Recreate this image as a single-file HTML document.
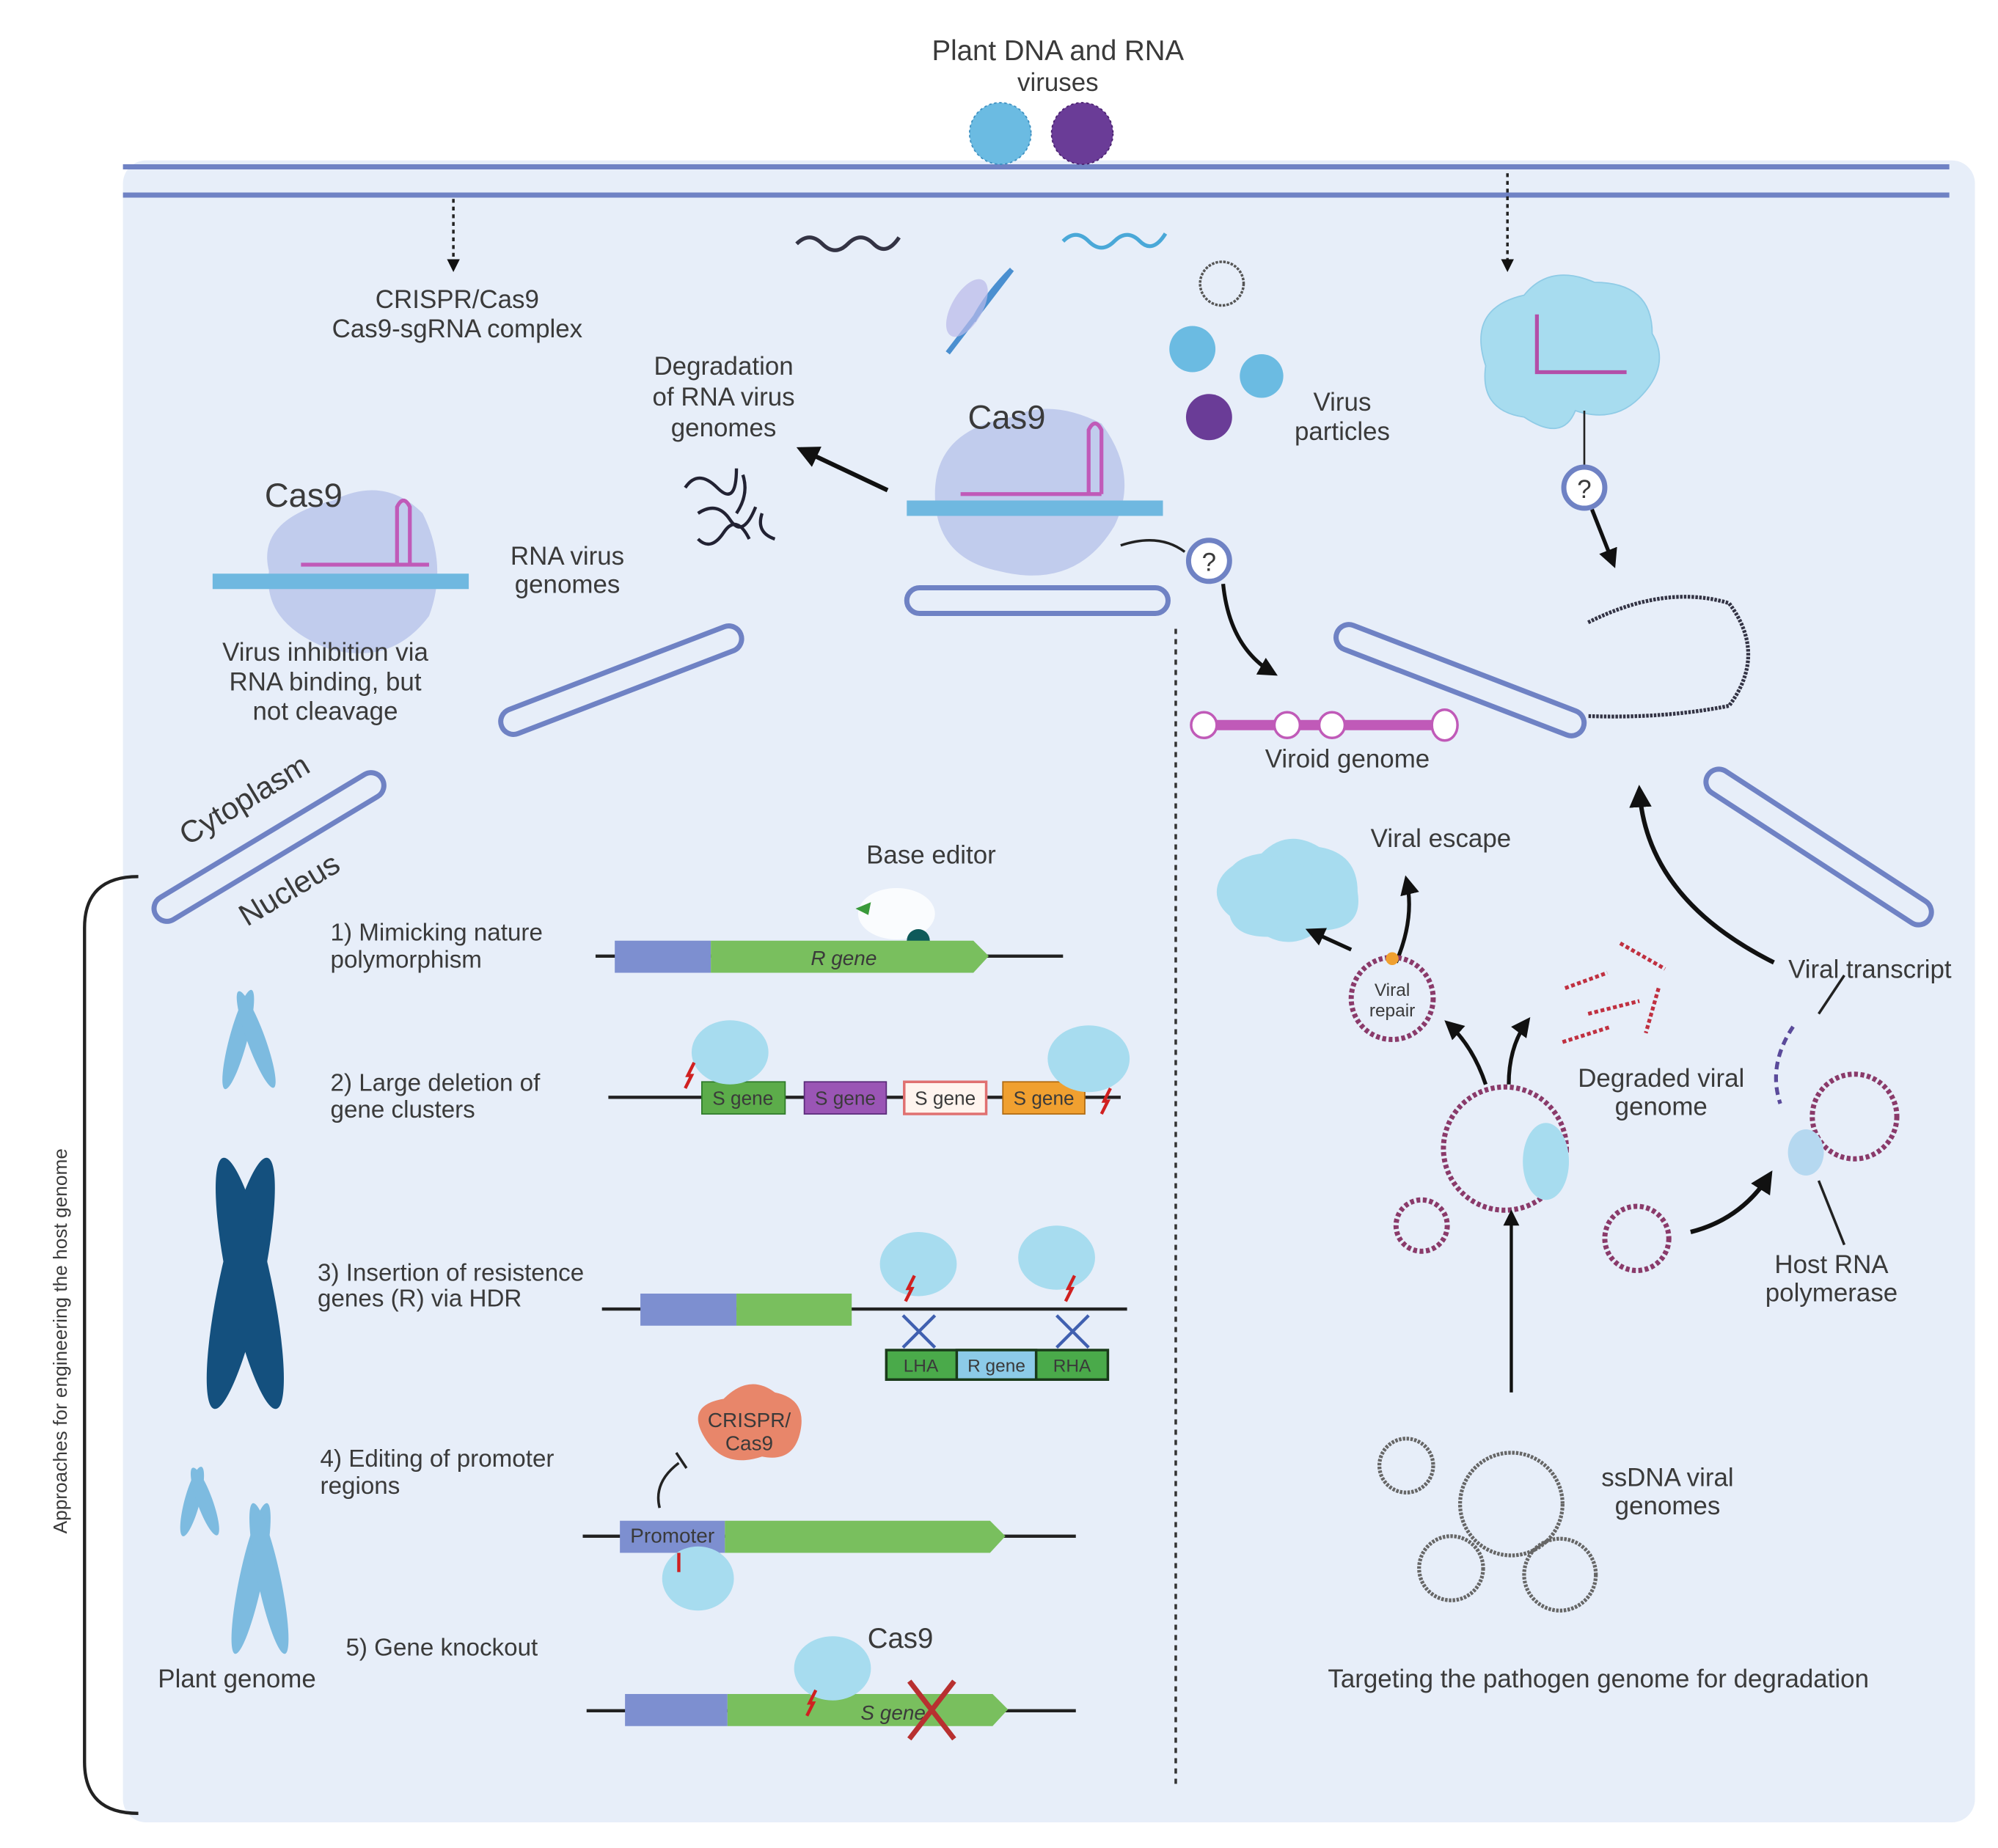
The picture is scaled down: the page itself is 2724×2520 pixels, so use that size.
<!DOCTYPE html>
<html><head><meta charset="utf-8"><style>
html,body{margin:0;padding:0;background:#fff}
svg{display:block}
text{font-family:"Liberation Sans",sans-serif;fill:#3a3a3a}
</style></head><body>
<svg width="2724" height="2520" viewBox="0 0 1560 1440" preserveAspectRatio="none" xmlns="http://www.w3.org/2000/svg">
<defs>
<marker id="ah" viewBox="0 0 10 10" refX="8" refY="5" markerWidth="5" markerHeight="5" orient="auto"><path d="M0,0L10,5L0,10z" fill="#111"/></marker>
</defs>
<rect x="96" y="125" width="1446" height="1295" rx="18" fill="#e7eef9"/>
<line x1="96" y1="130" x2="1522" y2="130" stroke="#6f82c4" stroke-width="4"/>
<line x1="96" y1="152" x2="1522" y2="152" stroke="#6f82c4" stroke-width="4"/>
<text x="826" y="47" font-size="22" text-anchor="middle">Plant DNA and RNA</text>
<text x="826" y="71" font-size="20" text-anchor="middle">viruses</text>
<circle cx="781" cy="104" r="24" fill="#6bbbe2" stroke="#3d8fc0" stroke-dasharray="2 2"/>
<circle cx="845" cy="104" r="24" fill="#6a3c97" stroke="#4a2070" stroke-dasharray="2 2"/>
<!-- dotted arrows -->
<line x1="354" y1="155" x2="354" y2="210" stroke="#222" stroke-width="2" stroke-dasharray="3 3" marker-end="url(#ah)"/>
<line x1="1177" y1="135" x2="1177" y2="210" stroke="#222" stroke-width="2" stroke-dasharray="3 3" marker-end="url(#ah)"/>
<text x="357" y="240" font-size="20" text-anchor="middle">CRISPR/Cas9</text>
<text x="357" y="263" font-size="20" text-anchor="middle">Cas9-sgRNA complex</text>
<!-- squiggles -->
<path d="M622,190 q10,-10 20,0 t20,0 t20,0 t20,-5" fill="none" stroke="#334" stroke-width="3"/>
<path d="M830,188 q10,-10 20,0 t20,0 t20,0 t20,-6" fill="none" stroke="#4aa8d8" stroke-width="3"/>
<circle cx="954" cy="221" r="17" fill="none" stroke="#555" stroke-width="2" stroke-dasharray="2 1"/>
<path d="M740,275 L790,210 M760,250 q10,-20 30,-40" stroke="#4a8fd0" stroke-width="4" fill="none"/>
<ellipse cx="755" cy="240" rx="12" ry="25" fill="#b9b9e9" opacity=".7" transform="rotate(30 755 240)"/>
<circle cx="931" cy="272" r="18" fill="#6bbbe2"/><circle cx="985" cy="293" r="17" fill="#6bbbe2"/><circle cx="944" cy="325" r="18" fill="#6a3c97"/>
<text x="1048" y="320" font-size="20" text-anchor="middle">Virus</text>
<text x="1048" y="343" font-size="20" text-anchor="middle">particles</text>
<!-- cloud top right -->
<path d="M1160,285 q-15,-45 30,-55 q20,-25 55,-10 q45,0 45,40 q15,25 -10,50 q-20,20 -50,10 q-10,25 -40,5 q-35,-5 -30,-40z" fill="#a7dcef" stroke="#8fcbe6"/>
<path d="M1200,245 v45 h70" stroke="#b34fa8" stroke-width="3" fill="none"/>
<line x1="1237" y1="320" x2="1237" y2="365" stroke="#222" stroke-width="1.5"/>
<circle cx="1237" cy="380" r="16" fill="#fff" stroke="#6f82c4" stroke-width="4"/>
<text x="1237" y="388" font-size="20" text-anchor="middle">?</text>
<line x1="1243" y1="397" x2="1260" y2="440" stroke="#111" stroke-width="3" marker-end="url(#ah)"/>
<path d="M1240,485 q60,-30 110,-15 q30,40 0,80 q-50,10 -110,8" fill="none" stroke="#334" stroke-width="3" stroke-dasharray="2 1"/>
<!-- Degradation -->
<text x="565" y="292" font-size="20" text-anchor="middle">Degradation</text>
<text x="565" y="316" font-size="20" text-anchor="middle">of RNA virus</text>
<text x="565" y="340" font-size="20" text-anchor="middle">genomes</text>
<g stroke="#223" stroke-width="2.5" fill="none">
<path d="M535,380 q10,-15 25,0 t15,-15"/><path d="M545,400 q15,-10 25,5 t20,-10"/><path d="M545,420 q10,10 20,-5 t20,5"/><path d="M580,370 q5,15 -5,30"/><path d="M595,400 q-5,15 10,20"/>
</g>
<line x1="693" y1="382" x2="625" y2="350" stroke="#111" stroke-width="3.5" marker-end="url(#ah)"/>
<!-- Cas9 center -->
<path d="M730,385 q0,-50 60,-60 q30,-15 70,5 q30,40 10,80 q-30,50 -90,35 q-50,-10 -50,-60z" fill="#b8c3ea" opacity=".8"/>
<rect x="708" y="390" width="200" height="12" fill="#6fb8e0"/>
<path d="M750,385 h110" stroke="#c05ab8" stroke-width="3"/>
<path d="M850,385 v-50 q5,-10 10,0 v50" stroke="#c05ab8" stroke-width="3" fill="none"/>
<text x="786" y="334" font-size="26" text-anchor="middle">Cas9</text>
<path d="M875,425 q30,-10 50,5" stroke="#222" stroke-width="2" fill="none"/>
<circle cx="944" cy="437" r="16" fill="#fff" stroke="#6f82c4" stroke-width="4"/>
<text x="944" y="445" font-size="20" text-anchor="middle">?</text>
<path d="M955,455 q5,50 40,70" stroke="#111" stroke-width="3" fill="none" marker-end="url(#ah)"/>
<!-- Cas9 left -->
<path d="M210,445 q-10,-40 50,-55 q40,-20 70,10 q20,40 5,80 q-30,40 -80,25 q-50,-20 -45,-60z" fill="#b8c3ea" opacity=".8"/>
<rect x="166" y="447" width="200" height="12" fill="#6fb8e0"/>
<path d="M235,440 h100 M310,440 v-45 q5,-10 10,0 v45" stroke="#c05ab8" stroke-width="3" fill="none"/>
<text x="237" y="395" font-size="26" text-anchor="middle">Cas9</text>
<text x="443" y="440" font-size="20" text-anchor="middle">RNA virus</text>
<text x="443" y="462" font-size="20" text-anchor="middle">genomes</text>
<text x="254" y="515" font-size="20" text-anchor="middle">Virus inhibition via</text>
<text x="254" y="538" font-size="20" text-anchor="middle">RNA binding, but</text>
<text x="254" y="561" font-size="20" text-anchor="middle">not cleavage</text>
<!-- tubes -->
<g fill="none" stroke="#6f82c4" stroke-width="4">
<rect x="708" y="458" width="204" height="20" rx="10"/>
<rect x="-100" y="-10" width="200" height="20" rx="10" transform="translate(485,530) rotate(-21)"/>
<rect x="-103" y="-10" width="206" height="20" rx="10" transform="translate(210,660) rotate(-31)"/>
<rect x="-103" y="-10" width="206" height="20" rx="10" transform="translate(1140,530) rotate(21)"/>
<rect x="-103" y="-10" width="206" height="20" rx="10" transform="translate(1420,660) rotate(33)"/>
</g>
<text x="195" y="630" font-size="24" text-anchor="middle" transform="rotate(-31 195 630)">Cytoplasm</text>
<text x="230" y="700" font-size="24" text-anchor="middle" transform="rotate(-31 230 700)">Nucleus</text>
<!-- dashed divider -->
<line x1="918" y1="490" x2="918" y2="1390" stroke="#333" stroke-width="2" stroke-dasharray="4 4"/>
<!-- viroid -->
<path d="M940,565 h195" stroke="#c05ab8" stroke-width="8" fill="none"/>
<ellipse cx="940" cy="565" rx="10" ry="10" fill="#fff" stroke="#c05ab8" stroke-width="2"/>
<ellipse cx="1005" cy="565" rx="10" ry="10" fill="#fff" stroke="#c05ab8" stroke-width="2"/>
<ellipse cx="1040" cy="565" rx="10" ry="10" fill="#fff" stroke="#c05ab8" stroke-width="2"/>
<ellipse cx="1128" cy="565" rx="10" ry="12" fill="#fff" stroke="#c05ab8" stroke-width="2"/>
<text x="1052" y="598" font-size="20" text-anchor="middle">Viroid genome</text>
<!-- right bottom -->
<path d="M960,700 q-10,-30 25,-35 q20,-20 45,-5 q30,5 30,35 q5,30 -30,30 q-20,15 -40,5 q-35,0 -30,-30z" fill="#a7dcef"/>
<text x="1125" y="660" font-size="20" text-anchor="middle">Viral escape</text>
<line x1="1055" y1="740" x2="1022" y2="725" stroke="#111" stroke-width="3" marker-end="url(#ah)"/>
<path d="M1090,750 q15,-35 8,-65" stroke="#111" stroke-width="3" fill="none" marker-end="url(#ah)"/>
<circle cx="1087" cy="778" r="32" fill="none" stroke="#8a3a6a" stroke-width="4" stroke-dasharray="3 2"/>
<circle cx="1087" cy="747" r="5" fill="#f0a030"/>
<text x="1087" y="776" font-size="14" text-anchor="middle">Viral</text>
<text x="1087" y="792" font-size="14" text-anchor="middle">repair</text>
<g stroke="#c03040" stroke-width="3" stroke-dasharray="3 2">
<line x1="1222" y1="770" x2="1255" y2="758"/><line x1="1265" y1="735" x2="1300" y2="755"/><line x1="1240" y1="790" x2="1280" y2="780"/><line x1="1220" y1="812" x2="1258" y2="800"/><line x1="1295" y1="770" x2="1285" y2="805"/>
</g>
<text x="1297" y="847" font-size="20" text-anchor="middle">Degraded viral</text>
<text x="1297" y="869" font-size="20" text-anchor="middle">genome</text>
<path d="M1160,845 q-10,-30 -30,-48" stroke="#111" stroke-width="3" fill="none" marker-end="url(#ah)"/>
<path d="M1178,845 q0,-30 15,-50" stroke="#111" stroke-width="3" fill="none" marker-end="url(#ah)"/>
<circle cx="1175" cy="895" r="48" fill="none" stroke="#8a3a6a" stroke-width="4" stroke-dasharray="3 2"/>
<ellipse cx="1207" cy="905" rx="18" ry="30" fill="#a7dcef"/>
<circle cx="1110" cy="955" r="20" fill="none" stroke="#8a3a6a" stroke-width="4" stroke-dasharray="3 2"/>
<line x1="1180" y1="1085" x2="1180" y2="945" stroke="#111" stroke-width="2.5" marker-end="url(#ah)"/>
<circle cx="1278" cy="965" r="25" fill="none" stroke="#8a3a6a" stroke-width="4" stroke-dasharray="3 2"/>
<path d="M1320,960 q40,-10 62,-45" stroke="#111" stroke-width="3.5" fill="none" marker-end="url(#ah)"/>
<circle cx="1448" cy="870" r="33" fill="none" stroke="#8a3a6a" stroke-width="4" stroke-dasharray="3 2"/>
<ellipse cx="1410" cy="898" rx="14" ry="18" fill="#b5d8f0"/>
<path d="M1400,800 q-20,30 -10,60" stroke="#5a4a9a" stroke-width="3" fill="none" stroke-dasharray="6 4"/>
<line x1="1420" y1="790" x2="1440" y2="760" stroke="#222" stroke-width="2"/>
<text x="1460" y="762" font-size="20" text-anchor="middle">Viral transcript</text>
<line x1="1420" y1="920" x2="1440" y2="970" stroke="#222" stroke-width="2"/>
<text x="1430" y="992" font-size="20" text-anchor="middle">Host RNA</text>
<text x="1430" y="1014" font-size="20" text-anchor="middle">polymerase</text>
<path d="M1385,750 q-100,-50 -105,-135" stroke="#111" stroke-width="3.5" fill="none" marker-end="url(#ah)"/>
<g fill="none" stroke="#666" stroke-width="3" stroke-dasharray="2 1">
<circle cx="1098" cy="1142" r="21"/><circle cx="1180" cy="1172" r="40"/><circle cx="1133" cy="1222" r="25"/><circle cx="1218" cy="1227" r="28"/>
</g>
<text x="1302" y="1158" font-size="20" text-anchor="middle">ssDNA viral</text>
<text x="1302" y="1180" font-size="20" text-anchor="middle">genomes</text>
<text x="1248" y="1315" font-size="20" text-anchor="middle">Targeting the pathogen genome for degradation</text>
<!-- bracket -->
<path d="M108,683 q-42,0 -42,40 v650 q0,40 42,40" fill="none" stroke="#222" stroke-width="2.5"/>
<text x="52" y="1045" font-size="15" text-anchor="middle" transform="rotate(-90 52 1045)">Approaches for engineering the host genome</text>
<!-- chromosomes -->
<g fill="#7dbbe0">
<ellipse cx="186" cy="810" rx="7" ry="40" transform="rotate(15 186 810)"/><ellipse cx="200" cy="810" rx="7" ry="40" transform="rotate(-20 200 810)"/>
<ellipse cx="150" cy="1170" rx="6" ry="28" transform="rotate(15 150 1170)"/><ellipse cx="160" cy="1170" rx="6" ry="28" transform="rotate(-20 160 1170)"/>
<ellipse cx="196" cy="1230" rx="9" ry="60" transform="rotate(12 196 1230)"/><ellipse cx="210" cy="1230" rx="9" ry="60" transform="rotate(-12 210 1230)"/>
</g>
<g fill="#14507e">
<ellipse cx="188" cy="1000" rx="17" ry="100" transform="rotate(12 188 1000)"/><ellipse cx="195" cy="1000" rx="17" ry="100" transform="rotate(-12 195 1000)"/>
</g>
<text x="185" y="1315" font-size="20" text-anchor="middle">Plant genome</text>
<!-- genes -->
<g font-size="19">
<text x="258" y="733">1) Mimicking nature</text><text x="258" y="754">polymorphism</text>
<text x="258" y="850">2) Large deletion of</text><text x="258" y="871">gene clusters</text>
<text x="248" y="998">3) Insertion of resistence</text><text x="248" y="1018">genes (R) via HDR</text>
<text x="250" y="1143">4) Editing of promoter</text><text x="250" y="1164">regions</text>
<text x="270" y="1290">5) Gene knockout</text>
</g>
<text x="727" y="673" font-size="20" text-anchor="middle">Base editor</text>
<ellipse cx="700" cy="712" rx="30" ry="20" fill="#fff" opacity=".8"/>
<circle cx="717" cy="733" r="9" fill="#0e5a5a"/><path d="M668,708 l12,-5 l-2,10z" fill="#3a9a3a"/>
<g stroke="#222" stroke-width="2.5">
<line x1="465" y1="745" x2="830" y2="745"/><line x1="475" y1="855" x2="875" y2="855"/><line x1="470" y1="1020" x2="880" y2="1020"/><line x1="455" y1="1197" x2="840" y2="1197"/><line x1="458" y1="1333" x2="840" y2="1333"/>
</g>
<rect x="480" y="733" width="75" height="25" fill="#7d8fd0"/><path d="M555,733 h205 l12,12 l-12,13 h-205z" fill="#79bf5e"/>
<text x="633" y="752" font-size="16" font-style="italic">R gene</text>
<g font-size="15" text-anchor="middle">
<rect x="548" y="843" width="65" height="25" fill="#5cac4a" stroke="#2e7a2a"/><text x="580" y="861">S gene</text>
<rect x="628" y="843" width="64" height="25" fill="#9a55b5" stroke="#5a2a7a"/><text x="660" y="861">S gene</text>
<rect x="706" y="843" width="64" height="25" fill="#fff4ee" stroke="#e07070" stroke-width="2"/><text x="738" y="861">S gene</text>
<rect x="783" y="843" width="64" height="25" fill="#f0a030" stroke="#b06a10"/><text x="815" y="861">S gene</text>
</g>
<rect x="500" y="1008" width="75" height="25" fill="#7d8fd0"/><rect x="575" y="1008" width="90" height="25" fill="#79bf5e"/>
<g stroke="#4060b0" stroke-width="2.5"><path d="M705,1025 l25,25 M730,1025 l-25,25 M825,1025 l25,25 M850,1025 l-25,25"/></g>
<rect x="692" y="1052" width="173" height="23" fill="#4aaa4a" stroke="#1a3a1a" stroke-width="2"/>
<rect x="747" y="1052" width="62" height="23" fill="#8ccbe8" stroke="#1a3a1a" stroke-width="2"/>
<g font-size="14" text-anchor="middle"><text x="719" y="1069">LHA</text><text x="778" y="1069">R gene</text><text x="837" y="1069">RHA</text></g>
<rect x="484" y="1185" width="82" height="25" fill="#7d8fd0"/><path d="M566,1185 h207 l12,12 l-12,13 h-207z" fill="#79bf5e"/>
<text x="525" y="1202" font-size="16" text-anchor="middle">Promoter</text>
<path d="M515,1175 q-5,-20 15,-35" stroke="#222" stroke-width="2" fill="none"/><path d="M528,1132 l8,12" stroke="#222" stroke-width="2"/>
<path d="M550,1120 q-15,-25 15,-30 q20,-20 40,-5 q25,5 20,30 q-5,25 -30,20 q-30,10 -45,-15z" fill="#e8866a"/>
<text x="585" y="1112" font-size="16" text-anchor="middle">CRISPR/</text><text x="585" y="1130" font-size="16" text-anchor="middle">Cas9</text>
<rect x="488" y="1320" width="80" height="25" fill="#7d8fd0"/><path d="M568,1320 h207 l12,12 l-12,13 h-207z" fill="#79bf5e"/>
<text x="672" y="1340" font-size="16" font-style="italic">S gene</text>
<path d="M710,1310 l35,45 M745,1310 l-35,45" stroke="#b83030" stroke-width="4"/>
<text x="703" y="1284" font-size="22" text-anchor="middle">Cas9</text>
<!-- small cas clouds -->
<g fill="#a7dcef">
<ellipse cx="570" cy="820" rx="30" ry="25"/><ellipse cx="850" cy="825" rx="32" ry="26"/>
<ellipse cx="717" cy="985" rx="30" ry="25"/><ellipse cx="825" cy="980" rx="30" ry="25"/>
<ellipse cx="545" cy="1230" rx="28" ry="25"/><ellipse cx="650" cy="1300" rx="30" ry="25"/>
<ellipse cx="990" cy="695" rx="40" ry="28"/>
</g>
<g stroke="#d02020" stroke-width="2.5">
<path d="M535,848 l5,-10 l-3,0 l5,-10"/><path d="M860,868 l5,-10 l-3,0 l5,-10"/><path d="M707,1014 l5,-10 l-3,0 l5,-10"/><path d="M832,1014 l5,-10 l-3,0 l5,-10"/><path d="M530,1225 v-15"/><path d="M630,1337 l5,-10 l-3,0 l5,-10"/>
</g>
</svg>
</body></html>
